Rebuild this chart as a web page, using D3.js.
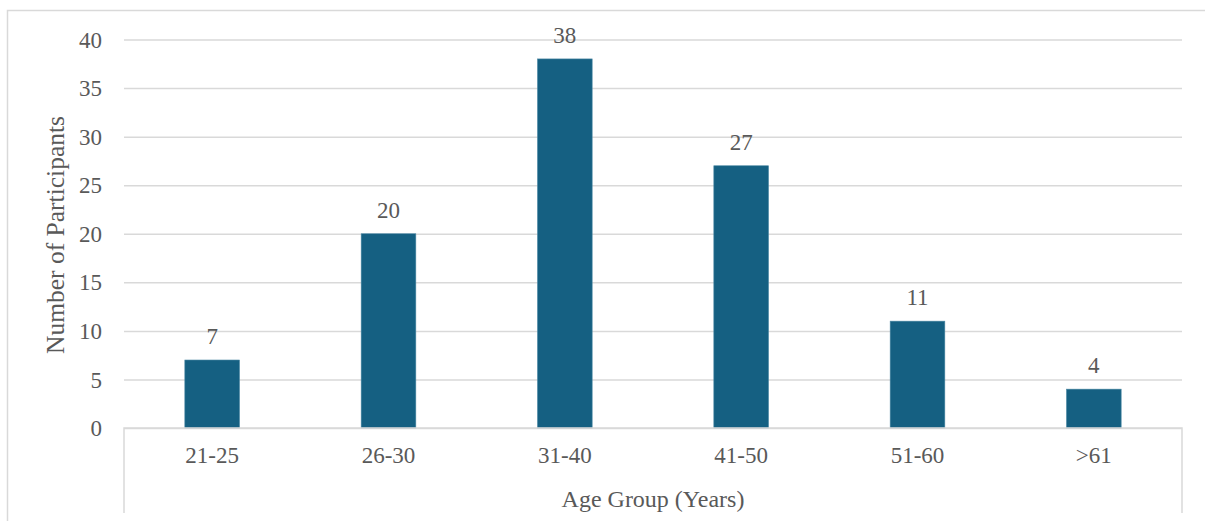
<!DOCTYPE html>
<html>
<head>
<meta charset="utf-8">
<script src="https://cdn.jsdelivr.net/npm/d3@7"></script>
<style>
  html, body { margin: 0; padding: 0; background: #fff; }
  svg { display: block; }
</style>
</head>
<body>
<svg id="chart" width="1205" height="521"></svg>
<script>
// Participants per age group
const ageGroups = ["21-25", "26-30", "31-40", "41-50", "51-60", ">61"];
const participants = [7, 20, 38, 27, 11, 4];
const yTicks = [0, 5, 10, 15, 20, 25, 30, 35, 40];

const W = 1205, H = 521;
const plot = { left: 124, right: 1182, top: 39.5, bottom: 428 };
const gridColor = "#d9d9d9";
const barColor = "#156082";
const textColor = "#595959";
const fontFamily = "'Liberation Serif', 'Times New Roman', Tinos, 'DejaVu Serif', serif";
const labelSize = 23;

const svg = d3.select("#chart")
  .attr("font-family", fontFamily);

// outer chart frame
svg.append("path")
  .attr("d", `M7.5,${H + 2} V10.5 H${W + 2}`)
  .attr("fill", "none")
  .attr("stroke", gridColor)
  .attr("stroke-width", 1.5);

const x = d3.scaleBand()
  .domain(ageGroups)
  .range([plot.left, plot.right])
  .paddingInner(0.69)
  .paddingOuter(0.345);

const xCenter = d3.scaleBand().domain(ageGroups).range([plot.left, plot.right]);

const y = d3.scaleLinear().domain([0, 40]).range([plot.bottom, plot.top]);

// horizontal gridlines with value labels
const yAxis = d3.axisLeft(y)
  .tickValues(yTicks)
  .tickSize(-(plot.right - plot.left))
  .tickPadding(22)
  .tickFormat(d3.format("d"));

const gy = svg.append("g")
  .attr("transform", `translate(${plot.left},0)`)
  .call(yAxis)
  .attr("font-family", fontFamily);
gy.select(".domain").remove();
gy.selectAll(".tick line").attr("stroke", gridColor).attr("stroke-width", 1.5);
gy.selectAll(".tick text")
  .attr("font-size", labelSize)
  .attr("fill", textColor)
  .attr("dy", "0.33em");

// bars
svg.append("g").selectAll("rect")
  .data(participants)
  .join("rect")
  .attr("x", (d, i) => x(ageGroups[i]))
  .attr("width", x.bandwidth())
  .attr("y", d => y(d))
  .attr("height", d => y(0) - y(d))
  .attr("fill", barColor)
  .attr("stroke", "#4a87a3")
  .attr("stroke-width", 0.6);

// value labels above bars
svg.append("g").selectAll("text")
  .data(participants)
  .join("text")
  .attr("x", (d, i) => xCenter(ageGroups[i]) + xCenter.bandwidth() / 2)
  .attr("y", d => y(d) - 16)
  .attr("text-anchor", "middle")
  .attr("font-size", labelSize)
  .attr("fill", textColor)
  .text(d => d);

// category axis: baseline plus box sides extending down around the labels
const boxBottom = 513;
svg.append("path")
  .attr("d", `M${plot.left},${boxBottom} V${plot.bottom} H${plot.right} V${boxBottom}`)
  .attr("fill", "none")
  .attr("stroke", gridColor)
  .attr("stroke-width", 1.5);

const xAxis = d3.axisBottom(xCenter).tickSize(0).tickPadding(0);
const gx = svg.append("g")
  .attr("transform", `translate(0,${plot.bottom})`)
  .call(xAxis)
  .attr("font-family", fontFamily);
gx.select(".domain").remove();
gx.selectAll(".tick text")
  .attr("font-size", labelSize)
  .attr("fill", textColor)
  .attr("dy", "0")
  .attr("y", 35);

// axis titles
svg.append("text")
  .attr("x", (plot.left + plot.right) / 2)
  .attr("y", 507)
  .attr("text-anchor", "middle")
  .attr("font-size", 24)
  .attr("fill", textColor)
  .text("Age Group (Years)");

svg.append("text")
  .attr("transform", `translate(64,235) rotate(-90)`)
  .attr("text-anchor", "middle")
  .attr("font-size", 25.5)
  .attr("fill", textColor)
  .text("Number of Participants");
</script>
</body>
</html>
